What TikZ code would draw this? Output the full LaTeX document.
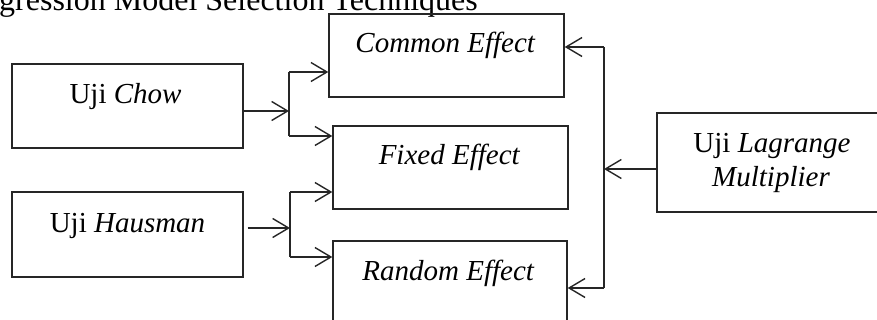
\documentclass[tikz,border=0pt]{standalone}
\usepackage{fontspec}
\setmainfont{Liberation Serif}
\usetikzlibrary{arrows.meta}
\begin{document}
\begin{tikzpicture}[x=1pt,y=-1pt,
  box/.style={draw=black!85, line width=1.4pt, inner sep=0pt},
  lbl/.style={font=\fontsize{29}{32}\selectfont, inner sep=0pt, anchor=base},
  wire/.style={draw=black!85, line width=1.4pt},
  conn/.style={wire, -{Straight Barb[length=16pt,width=19pt]}}]
\useasboundingbox (0,0) rectangle (877,320);
\clip (0,0) rectangle (877,320);
% title (cropped at top, as in the reference)
\node[font=\fontsize{32}{36}\selectfont, inner sep=0pt, anchor=base west] (title) at (-1,11) {gression Model Selection Techniques};
% boxes
\node[box, minimum width=231pt, minimum height=84pt] (chow) at (127.5,106) {};
\node[box, minimum width=235pt, minimum height=83pt] (common) at (446.5,55.5) {};
\node[box, minimum width=235pt, minimum height=83pt] (fixed) at (450.5,167.5) {};
\node[box, minimum width=231pt, minimum height=85pt] (hausman) at (127.5,234.5) {};
\node[box, minimum width=234pt, minimum height=83pt] (random) at (450,282.5) {};
\node[box, minimum width=233pt, minimum height=99pt] (lm) at (773.5,162.5) {};
% labels
\node[lbl] (tchow) at (125.5,104) {Uji \textit{Chow}};
\node[lbl] (tcommon) at (445.5,53) {\textit{Common Effect}};
\node[lbl] (tfixed) at (449.5,165) {\textit{Fixed Effect}};
\node[lbl] (thausman) at (127.5,233) {Uji \textit{Hausman}};
\node[lbl] (trandom) at (448.5,280) {\textit{Random Effect}};
\node[lbl] (tlm1) at (772,153) {Uji \textit{Lagrange}};
\node[lbl] (tlm2) at (771,187) {\textit{Multiplier}};
% Chow connectors
\coordinate (cj) at (289,111);
\coordinate (ca) at (289,72);
\coordinate (cb) at (289,136);
\draw[conn] (chow.east |- cj) -- (cj);
\draw[wire] (ca) -- (cb);
\draw[conn] (ca) -- (ca -| common.west);
\draw[conn] (cb) -- (cb -| fixed.west);
% Hausman connectors
\coordinate (hj) at (290,228);
\coordinate (ha) at (290,192);
\coordinate (hb) at (290,257);
\draw[conn] ([xshift=4pt]hausman.east |- hj) -- (hj);
\draw[wire] (ha) -- (hb);
\draw[conn] (ha) -- (ha -| fixed.west);
\draw[conn] (hb) -- (hb -| random.west);
% LM connectors
\coordinate (lj) at (604,169);
\coordinate (la) at (604,47);
\coordinate (lb) at (604,288);
\draw[conn] (lm.west |- lj) -- (lj);
\draw[wire] (la) -- (lb);
\draw[conn] (la) -- (la -| common.east);
\draw[conn] (lb) -- (lb -| random.east);
\end{tikzpicture}
\end{document}
